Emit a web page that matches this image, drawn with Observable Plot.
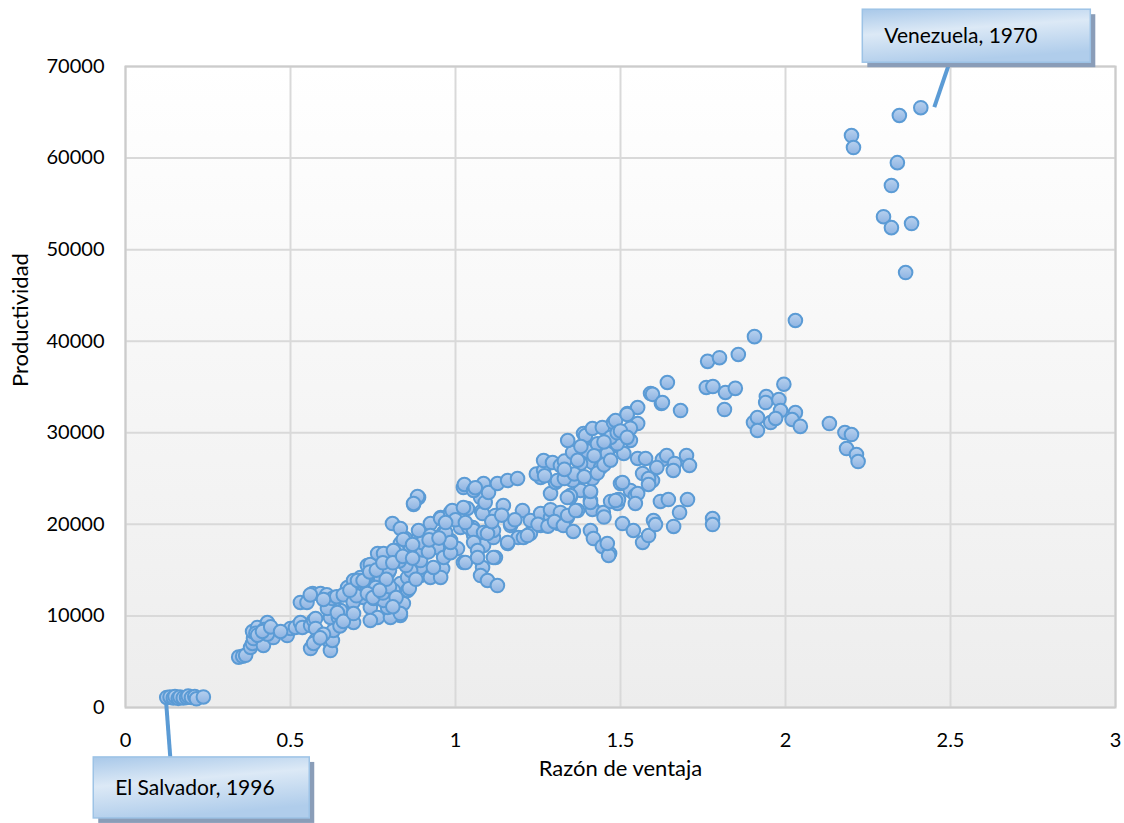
<!DOCTYPE html>
<html><head><meta charset="utf-8">
<script src="https://cdn.jsdelivr.net/npm/d3@7"></script>
<script src="https://cdn.jsdelivr.net/npm/@observablehq/plot@0.6"></script>
<style>body{margin:0;background:#fff;}</style>
</head><body><div id="chart"></div>
<script>
// Razón de ventaja (x) y Productividad (y)
const razon = [
0.125,0.135,0.145,0.15,0.16,0.165,0.175,0.185,0.19,0.2,
0.21,0.215,0.236,0.343,0.355,0.364,0.379,0.385,0.388,0.385,
0.4,0.395,0.41,0.418,0.43,0.42,0.445,0.448,0.43,0.40,
0.415,0.44,0.49,0.5,0.515,0.53,0.536,0.561,0.57,0.576,
0.576,0.561,0.576,0.57,0.621,0.621,0.627,0.63,0.621,0.645,
0.673,0.682,0.691,0.652,0.63,0.612,0.642,0.6,0.59,0.65,
0.66,0.53,0.55,0.567,0.591,0.61,0.627,0.64,0.673,0.691,
0.703,0.721,0.742,0.764,0.66,0.69,0.70,0.72,0.68,0.767,
0.797,0.812,0.818,0.833,0.842,0.833,0.803,0.794,0.752,0.733,
0.712,0.742,0.773,0.733,0.855,0.870,0.833,0.864,0.742,0.764,
0.782,0.824,0.848,0.888,0.918,0.809,0.833,0.873,0.888,0.842,
0.855,0.879,0.812,0.794,0.773,0.758,0.855,0.894,0.894,0.864,
0.894,0.733,0.782,0.812,0.833,0.742,0.691,0.703,0.72,0.75,
0.78,0.8,0.82,0.86,0.88,0.85,0.8,0.83,0.9,0.9,
0.87,0.79,0.77,0.81,0.924,0.955,0.888,0.924,0.964,0.945,
0.985,1.006,1.024,0.961,0.924,0.955,0.933,0.964,0.985,0.918,
0.955,0.985,0.99,1.036,1.024,1.052,1.055,1.015,1.04,1.067,
1.085,1.115,1.158,1.19,1.227,1.055,1.085,1.115,1.121,1.158,
1.167,1.206,1.082,1.076,1.097,1.127,1.055,1.067,1.03,1.067,
1.115,0.97,0.985,1.097,1.121,1.145,1.167,1.203,1.079,1.082,
1.076,1.09,1.0,1.03,1.11,1.14,1.18,1.024,1.027,1.055,
1.085,1.1,1.127,1.158,1.188,1.06,0.885,0.873,1.227,1.258,
1.288,1.312,1.339,1.37,1.288,1.318,1.348,1.379,1.409,1.409,
1.415,1.288,1.258,1.218,1.25,1.28,1.3,1.327,1.357,1.34,
1.364,1.409,1.418,1.445,1.467,1.464,1.46,1.415,1.448,1.409,
1.348,1.339,1.409,1.415,1.355,1.303,1.258,1.245,1.267,1.267,
1.294,1.318,1.33,1.379,1.415,1.44,1.355,1.34,1.388,1.394,
1.415,1.445,1.415,1.379,1.309,1.33,1.36,1.39,1.43,1.37,
1.4,1.43,1.479,1.53,1.5,1.51,1.46,1.479,1.485,1.521,
1.552,1.52,1.552,1.591,1.624,1.642,1.682,1.552,1.576,1.627,
1.64,1.664,1.70,1.709,1.66,1.597,1.61,1.567,1.585,1.585,
1.5,1.53,1.545,1.552,1.491,1.494,1.545,1.47,1.506,1.485,
1.45,1.506,1.539,1.567,1.585,1.6,1.606,1.621,1.645,1.703,
1.679,1.661,1.779,1.779,1.49,1.47,1.49,1.53,1.45,1.764,
1.80,1.857,1.906,2.03,1.76,1.78,1.818,1.848,1.815,1.995,
1.942,1.94,1.98,1.985,2.03,2.02,2.045,1.903,1.915,1.915,
1.955,1.97,2.133,2.18,2.20,2.185,2.215,2.22,1.597,1.627,
2.41,2.345,2.20,2.206,2.339,2.321,2.297,2.321,2.382,2.364,
0.74,0.76,0.78,0.81,0.84,0.87,0.92,0.95,0.97,1.45,
1.47,1.42,1.38,1.5,1.52,1.33,1.27,0.56,0.6,0.47
];
const productividad = [
1100,1150,1050,1200,1000,1150,1050,1100,1250,1100,
1200,950,1150,5500,5600,5700,6550,7000,7530,8300,
8740,8100,7640,6770,9280,8500,8190,7640,8000,7900,
8300,8800,7860,8630,8740,9280,8740,8950,9500,9720,
8630,6440,7320,7000,6990,6220,7320,8410,9830,9830,
9720,10370,9280,10590,10920,10810,10370,8000,7600,8900,
9400,11470,11470,12450,12450,12300,11900,12100,13100,13870,
12990,12010,10920,9830,12300,11500,12200,13500,12800,15510,
14740,16270,17140,13540,11360,10050,9830,10920,11900,13100,
14200,14630,13870,15510,12780,14630,17910,17470,15620,16820,
16820,17140,18450,18560,18780,20090,19550,22170,22930,18350,
16050,16820,17140,15290,14200,13100,14200,14410,15290,14960,
16050,12450,11690,12780,10260,9500,10260,13870,13870,12000,
12500,13200,12000,13000,14000,15500,15000,16000,17200,18000,
17800,14000,12800,11000,20090,20750,19330,18780,19110,17470,
18240,17360,15830,15180,14200,14200,15290,16380,16900,17000,
20640,21290,21510,21730,21840,19660,18780,19660,19660,18560,
17690,18560,17910,18560,19000,19330,19110,19330,16380,18020,
19870,18560,15290,14410,13870,13320,18020,17140,15830,16380,
16380,19110,18020,19000,20970,22060,20090,21510,21400,21180,
22930,22390,20500,20200,20300,21000,20500,24020,24350,23700,
24460,23480,24460,24790,25010,24000,23040,22280,20420,21180,
20750,20090,20750,21510,21600,21300,22930,23700,23480,22600,
21730,23370,19870,18780,20000,19800,20300,19870,19220,20970,
21510,19330,18450,17580,16820,16600,17910,21620,21290,22390,
23150,22930,23590,25000,24790,24570,25120,25500,25880,26970,
26750,26430,26900,26750,26750,26210,27850,29160,29920,29700,
30470,30580,28280,26650,24790,25000,25500,25200,25600,27000,
28000,28800,29160,29160,28400,27740,27740,31120,31340,32100,
32760,32000,31010,34290,33200,35490,32430,27190,27190,27080,
27520,26650,27520,26430,25880,24790,26210,25550,25000,24350,
24460,23700,23150,23370,22280,22710,22280,22500,24570,22600,
20800,20090,19330,18020,18780,20420,19980,22500,22710,22710,
21290,19770,20640,19980,28800,29500,30000,30500,29000,37800,
38200,38550,40500,42260,34950,35050,34400,34850,32540,35300,
33960,33300,33630,32430,32200,31450,30700,31120,31670,30250,
31120,31560,31010,30030,29810,28280,27630,26860,34200,33300,
65500,64650,62460,61150,59500,57000,53600,52400,52850,47500,
14800,15000,15800,15800,16500,16300,18300,18500,20200,26500,
27000,27500,28500,30200,29500,26000,25300,12300,11800,8300
];
const xTicks = [0, 0.5, 1, 1.5, 2, 2.5, 3];
const yTicks = [0, 10000, 20000, 30000, 40000, 50000, 60000, 70000];
const etiquetas = ["Venezuela, 1970", "El Salvador, 1996"];
const etiquetaX = [2.41, 0.125];
const etiquetaY = [65500, 1100];

const data = razon.map((x, i) => ({x, y: productividad[i]}));

const plot = Plot.plot({
  width: 1124, height: 823,
  marginTop: 66, marginRight: 9, marginBottom: 116, marginLeft: 125,
  x: {domain: [0, 3]},
  y: {domain: [0, 70000]},
  style: {fontFamily: "Lato", fontSize: "20px", color: "#000", background: "#fff", overflow: "visible"},
  marks: [
    Plot.frame({fill: "url(#bgGrad)", stroke: null}),
    Plot.gridX(xTicks, {stroke: "#D9D9D9", strokeOpacity: 1, strokeWidth: 2}),
    Plot.gridY(yTicks, {stroke: "#D9D9D9", strokeOpacity: 1, strokeWidth: 2}),
    Plot.frame({stroke: "#CCCCCC", strokeWidth: 2}),
    Plot.axisX(xTicks, {tickSize: 0, tickPadding: 25, tickFormat: d => String(d), label: null, fontSize: 20}),
    Plot.axisY(yTicks, {tickSize: 0, tickPadding: 21, tickFormat: d3.format("d"), label: null, fontSize: 20}),
    Plot.text(["Razón de ventaja"], {frameAnchor: "bottom", dy: 68, fontSize: 22}),
    Plot.text(["Productividad"], {frameAnchor: "left", dx: -105, rotate: -90, fontSize: 22}),
    Plot.dot(data, {x: "x", y: "y", r: 6.8, fill: "url(#dotGrad)", stroke: "#5B9BD5", strokeWidth: 2})
  ]
});

const svg = d3.select(plot);
const defs = svg.insert("defs", ":first-child");
const bg = defs.append("linearGradient").attr("id", "bgGrad").attr("x1", 0).attr("y1", 0).attr("x2", 0).attr("y2", 1);
bg.append("stop").attr("offset", "0%").attr("stop-color", "#FFFFFF");
bg.append("stop").attr("offset", "100%").attr("stop-color", "#EDEDED");
const dg = defs.append("linearGradient").attr("id", "dotGrad").attr("x1", 0).attr("y1", 0).attr("x2", 0).attr("y2", 1);
dg.append("stop").attr("offset", "0%").attr("stop-color", "#B9D2EF");
dg.append("stop").attr("offset", "100%").attr("stop-color", "#8DB3E2");
const cg = defs.append("linearGradient").attr("id", "boxGrad").attr("x1", 0).attr("y1", 0).attr("x2", 0.3).attr("y2", 1);
cg.append("stop").attr("offset", "0%").attr("stop-color", "#A8C8E9");
cg.append("stop").attr("offset", "45%").attr("stop-color", "#DCE9F6");
cg.append("stop").attr("offset", "100%").attr("stop-color", "#B0CDEB");

const X = plot.scale("x"), Y = plot.scale("y");
// callout layout: offsets from the annotated point (pixels)
const layout = [
  {box: [-58, -98, 228, 53], line: [14, 0, 29, -44]},
  {box: [-73, 60, 216, 61], line: [0, 7, 4, 60]}
];
etiquetas.forEach((label, i) => {
  const px = X.apply(etiquetaX[i]), py = Y.apply(etiquetaY[i]);
  const L = layout[i];
  const g = svg.append("g");
  g.append("line")
    .attr("x1", px + L.line[0]).attr("y1", py + L.line[1])
    .attr("x2", px + L.line[2]).attr("y2", py + L.line[3])
    .attr("stroke", "#5B9BD5").attr("stroke-width", 4);
  const bx = px + L.box[0], by = py + L.box[1], bw = L.box[2], bh = L.box[3];
  g.append("rect").attr("x", bx + 5).attr("y", by + 5).attr("width", bw).attr("height", bh)
    .attr("fill", "#8A9DB8");
  g.append("rect").attr("x", bx).attr("y", by).attr("width", bw).attr("height", bh)
    .attr("fill", "url(#boxGrad)").attr("stroke", "#9DC3E6").attr("stroke-width", 1.5);
  g.append("text").attr("x", bx + 22).attr("y", by + bh / 2)
    .attr("text-anchor", "start").attr("dy", "0.35em").attr("font-size", 21)
    .attr("fill", "#000").text(label);
});

document.getElementById("chart").append(plot);
</script>
</body></html>
